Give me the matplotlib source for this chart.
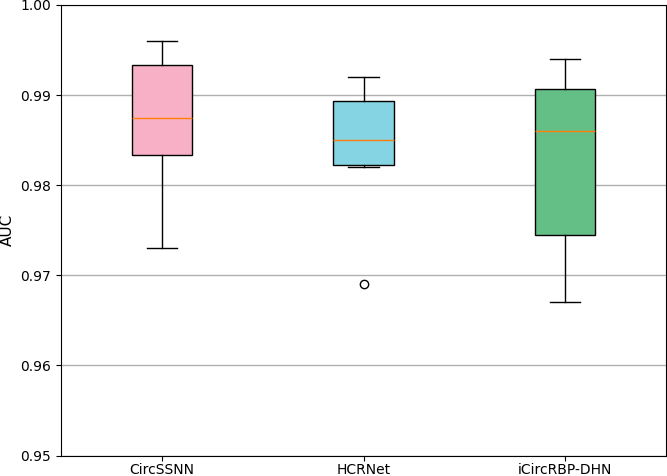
import matplotlib
matplotlib.use("Agg")
import matplotlib.pyplot as plt

# AUC per fold
models = ["CircSSNN", "HCRNet", "iCircRBP-DHN"]
circssnn = [0.973, 0.9833, 0.9875, 0.9933, 0.996]
hcrnet = [0.969, 0.982, 0.9828, 0.9872, 0.9900, 0.992]
icircrbp_dhn = [0.967, 0.9745, 0.986, 0.9907, 0.994]
colors = ["#F8B0C6", "#84D4E4", "#63BF86"]

fig = plt.figure(figsize=(6.67, 4.76), dpi=100)
ax = fig.add_axes([61 / 667, 1 - 455.5 / 476, 605 / 667, 450.5 / 476])

bp = ax.boxplot([circssnn, hcrnet, icircrbp_dhn], widths=0.3,
                patch_artist=True, zorder=3)
for patch, c in zip(bp["boxes"], colors):
    patch.set_facecolor(c)
    patch.set_edgecolor("black")

ax.set_xticks([1, 2, 3])
ax.set_xticklabels(models)
ax.tick_params(axis="x", length=3.5, pad=2)
ax.set_ylim(0.95, 1.00)
ax.set_yticks([0.95, 0.96, 0.97, 0.98, 0.99, 1.00])
ax.set_ylabel("AUC", fontsize=11)
ax.yaxis.grid(True, color="#b0b0b0", linewidth=1.0, zorder=0)
ax.set_axisbelow(True)

fig.savefig("out.png", dpi=100)
